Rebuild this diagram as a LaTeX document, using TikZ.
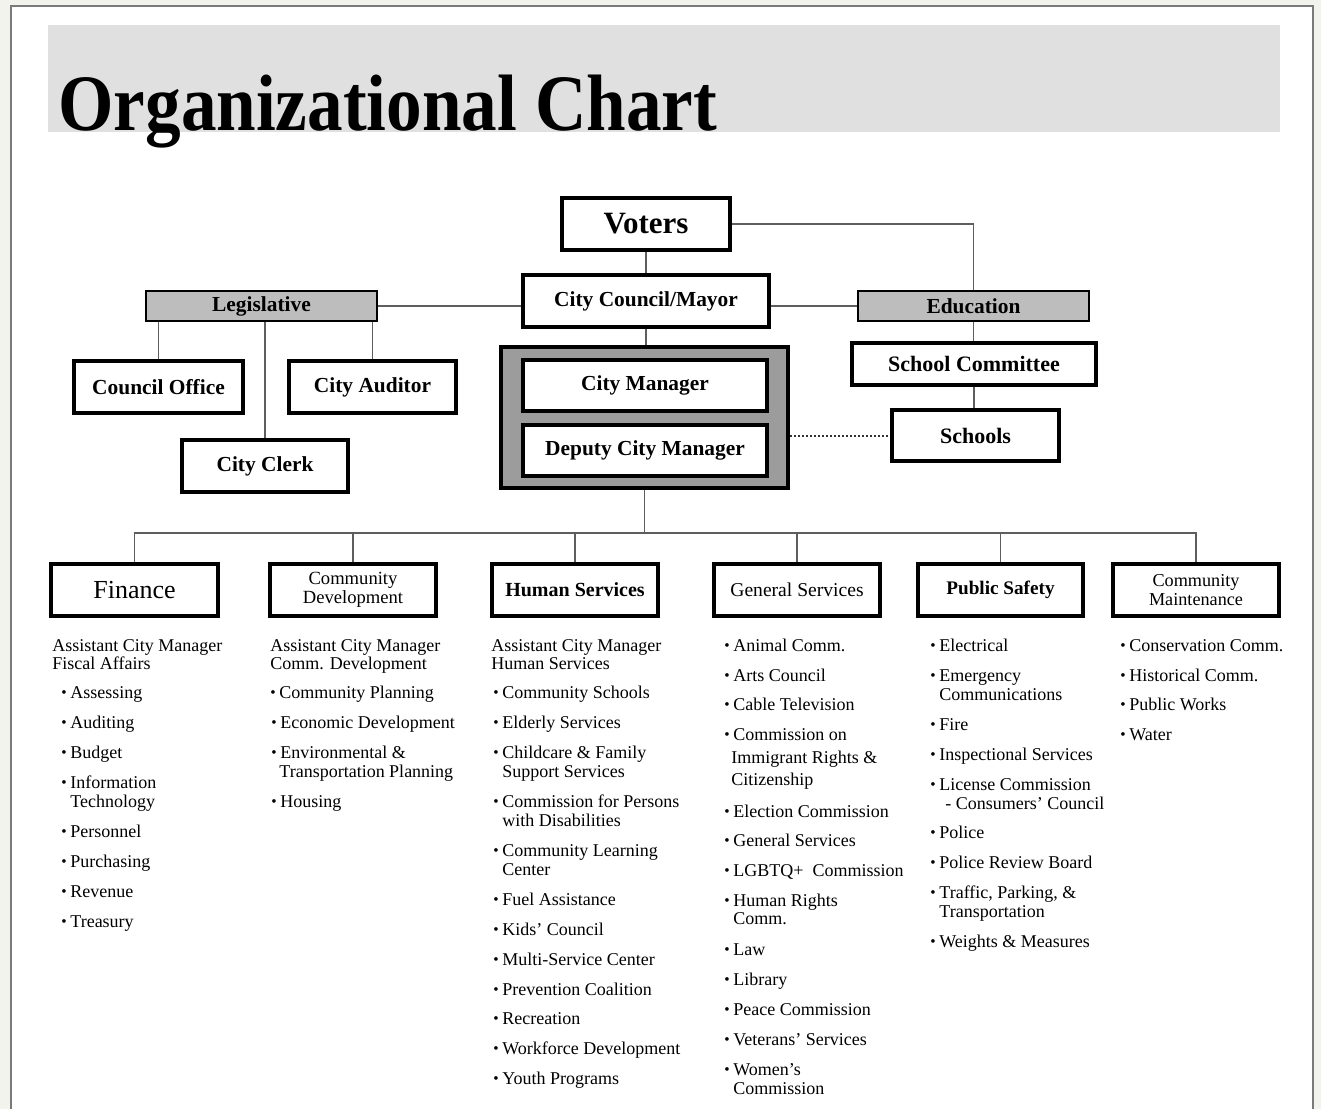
\documentclass[tikz,border=0pt]{standalone}
\usepackage{fontspec}
\setmainfont{Liberation Serif}
\usetikzlibrary{positioning}
\definecolor{pagebg}{HTML}{F3F3EE}
\definecolor{framec}{HTML}{7A7A7A}
\definecolor{band}{HTML}{E0E0E0}
\definecolor{hdrfill}{HTML}{BDBDBD}
\definecolor{mgrfill}{HTML}{9C9C9C}
\definecolor{conn}{HTML}{5E5E5E}
\newcommand{\bul}{\makebox[4.5pt][l]{\raisebox{0.02em}{\scalebox{0.85}{\textbullet}}}}
\newcommand{\boxfont}{\fontsize{10.7}{12}\selectfont\bfseries}
\newcommand{\listfont}{\fontsize{9}{9.5}\selectfont}
\tikzset{
  x=0.5pt, y=-0.5pt,
  box/.style={draw=black, line width=2pt, fill=white, inner sep=0pt, align=center, font=\boxfont},
  hdrbox/.style={draw=black, line width=1pt, fill=hdrfill, inner sep=0pt, align=center, font=\boxfont},
  conline/.style={draw=conn, line width=0.75pt},
  dotline/.style={draw=black!80, line width=1pt, dash pattern=on 1pt off 1pt},
  li/.style={anchor=base west, inner sep=0pt, font=\listfont},
}
\begin{document}
\begin{tikzpicture}
\useasboundingbox (0,0) rectangle (1321,1109);
% page and frame
\fill[pagebg] (0,0) rectangle (1321,1109);
\fill[white] (11,6) rectangle (1313,1109);
\draw[framec, line width=1pt] (11,1109) -- (11,6) -- (1313,6) -- (1313,1109);
% title band
\fill[band] (48,25) rectangle (1280,132);
\node[anchor=base west, inner sep=0pt] (title) at (58,130)
  {\fontsize{40}{40}\selectfont\bfseries\scalebox{0.89}[1]{Organizational Chart}};

% top level
\node[box, minimum width=84pt, minimum height=26pt, font=\fontsize{15.5}{17}\selectfont\bfseries] (voters) at (646,224) {Voters};
\node[box, minimum width=123pt, minimum height=26pt] (council) at (646,301) {City Council/Mayor};
\node[hdrbox, minimum width=115.5pt, minimum height=15pt] (leg) at (261.5,306) {Legislative};
\node[hdrbox, minimum width=115.5pt, minimum height=15pt] (edu) at (973.5,306) {Education};
\node[box, minimum width=84.5pt, minimum height=26pt] (office) at (158.5,387) {Council Office};
\node[box, minimum width=83.5pt, minimum height=26pt] (auditor) at (372.5,387) {City Auditor};
\node[box, minimum width=83pt, minimum height=26pt] (clerk) at (265,466) {City Clerk};
\node[box, minimum width=122pt, minimum height=21pt, font=\fontsize{11}{12}\selectfont\bfseries] (schcom) at (974,364) {School Committee};
\node[box, minimum width=83.5pt, minimum height=25.5pt, font=\fontsize{11}{12}\selectfont\bfseries] (schools) at (975.5,435.5) {Schools};
\node[draw=black, line width=2pt, fill=mgrfill, minimum width=143.5pt, minimum height=70.5pt, inner sep=0pt] (mgr) at (644.5,417.5) {};
\node[box, minimum width=122pt, minimum height=25.5pt] (citymgr) at (645,385.5) {City Manager};
\node[box, minimum width=122pt, minimum height=25.5pt] (deputy) at (645,450.5) {Deputy City Manager};

% departments
\node[box, minimum width=83.5pt, minimum height=26pt, font=\fontsize{13}{14}\selectfont] (fin) at (134.5,590) {Finance};
\node[box, minimum width=83pt, minimum height=26pt, font=\fontsize{9.3}{9.5}\selectfont] (cdev) at (353,590) {Community\\Development};
\node[box, minimum width=83pt, minimum height=26pt, font=\fontsize{10}{11}\selectfont\bfseries] (hum) at (575,590) {Human Services};
\node[box, minimum width=83pt, minimum height=26pt, font=\fontsize{9.8}{11}\selectfont] (gen) at (797,590) {General Services};
\node[box, minimum width=82.5pt, minimum height=26pt, font=\fontsize{9.6}{11}\selectfont\bfseries] (pub) at (1000.5,590) {Public Safety};
\node[box, minimum width=83pt, minimum height=26pt, font=\fontsize{9.1}{9.5}\selectfont] (cmaint) at (1196,590) {Community\\Maintenance};

% connectors
\draw[conline] (voters.south) -- (council.north);
\draw[conline] (voters.east) -| (edu.north);
\draw[conline] (edu.west) -- (edu.west -| council.east);
\draw[conline] (leg.east) -- (leg.east -| council.west);
\draw[conline] (office.north) -- (office.north |- leg.south);
\draw[conline] (auditor.north) -- (auditor.north |- leg.south);
\draw[conline] (clerk.north) -- (clerk.north |- leg.south);
\draw[conline] (edu.south) -- (edu.south |- schcom.north);
\draw[conline] (schcom.south) -- (schcom.south |- schools.north);
\draw[conline] (council.south) -- (council.south |- mgr.north);
\draw[dotline] (schools.west -| mgr.east) -- (schools.west);
\coordinate (bus) at (644.5,533);
\draw[conline] (mgr.south) -- (bus);
\foreach \d in {fin,cdev,hum,gen,pub,cmaint} { \draw[conline] (bus) -| (\d.north); }

% Finance list
\foreach \x/\y/\t [count=\i] in {
  52/651/{Assistant City Manager}, 52/669/{Fiscal Affairs},
  61/698/{\bul Assessing}, 61/728/{\bul Auditing}, 61/758/{\bul Budget},
  61/788/{\bul Information}, 70/807/{Technology}, 61/837/{\bul Personnel},
  61/867/{\bul Purchasing}, 61/897/{\bul Revenue}, 61/927/{\bul Treasury}}
  { \node[li] (finl\i) at (\x,\y) {\t}; }

% Community Development list
\foreach \x/\y/\t [count=\i] in {
  270/651/{Assistant City Manager}, 270/669/{Comm. Development},
  270/698/{\bul Community Planning}, 271/728/{\bul Economic Development},
  271/758/{\bul Environmental \&}, 279/777/{Transportation Planning},
  271/807/{\bul Housing}}
  { \node[li] (cdevl\i) at (\x,\y) {\t}; }

% Human Services list
\foreach \x/\y/\t [count=\i] in {
  491/651/{Assistant City Manager}, 491/669/{Human Services},
  493/698/{\bul Community Schools}, 493/728/{\bul Elderly Services},
  493/758/{\bul Childcare \& Family}, 502/777/{Support Services},
  493/807/{\bul Commission for Persons}, 502/826/{with Disabilities},
  493/856/{\bul Community Learning}, 502/875/{Center},
  493/905/{\bul Fuel Assistance}, 493/935/{\bul Kids' Council},
  493/965/{\bul Multi-Service Center}, 493/995/{\bul Prevention Coalition},
  493/1024/{\bul Recreation}, 493/1054/{\bul Workforce Development},
  493/1084/{\bul Youth Programs}}
  { \node[li] (huml\i) at (\x,\y) {\t}; }

% General Services list
\foreach \x/\y/\t [count=\i] in {
  724/651/{\bul Animal Comm.}, 724/681/{\bul Arts Council},
  724/710/{\bul Cable Television}, 724/740/{\bul Commission on},
  731/763/{Immigrant Rights \&}, 731/785/{Citizenship},
  724/817/{\bul Election Commission}, 724/846/{\bul General Services},
  724/876/{\bul LGBTQ+\ \ Commission}, 724/906/{\bul Human Rights},
  733/924/{Comm.}, 724/955/{\bul Law}, 724/985/{\bul Library},
  724/1015/{\bul Peace Commission}, 724/1045/{\bul Veterans' Services},
  724/1075/{\bul Women's}, 733/1094/{Commission}}
  { \node[li] (genl\i) at (\x,\y) {\t}; }

% Public Safety list
\foreach \x/\y/\t [count=\i] in {
  930/651/{\bul Electrical}, 930/681/{\bul Emergency}, 939/700/{Communications},
  930/730/{\bul Fire}, 930/760/{\bul Inspectional Services},
  930/790/{\bul License Commission}, 945/809/{- Consumers' Council},
  930/838/{\bul Police}, 930/868/{\bul Police Review Board},
  930/898/{\bul Traffic, Parking, \&}, 939/917/{Transportation},
  930/947/{\bul Weights \& Measures}}
  { \node[li] (publ\i) at (\x,\y) {\t}; }

% Community Maintenance list
\foreach \x/\y/\t [count=\i] in {
  1120/651/{\bul Conservation Comm.}, 1120/681/{\bul Historical Comm.},
  1120/710/{\bul Public Works}, 1120/740/{\bul Water}}
  { \node[li] (cml\i) at (\x,\y) {\t}; }
\end{tikzpicture}
\end{document}
